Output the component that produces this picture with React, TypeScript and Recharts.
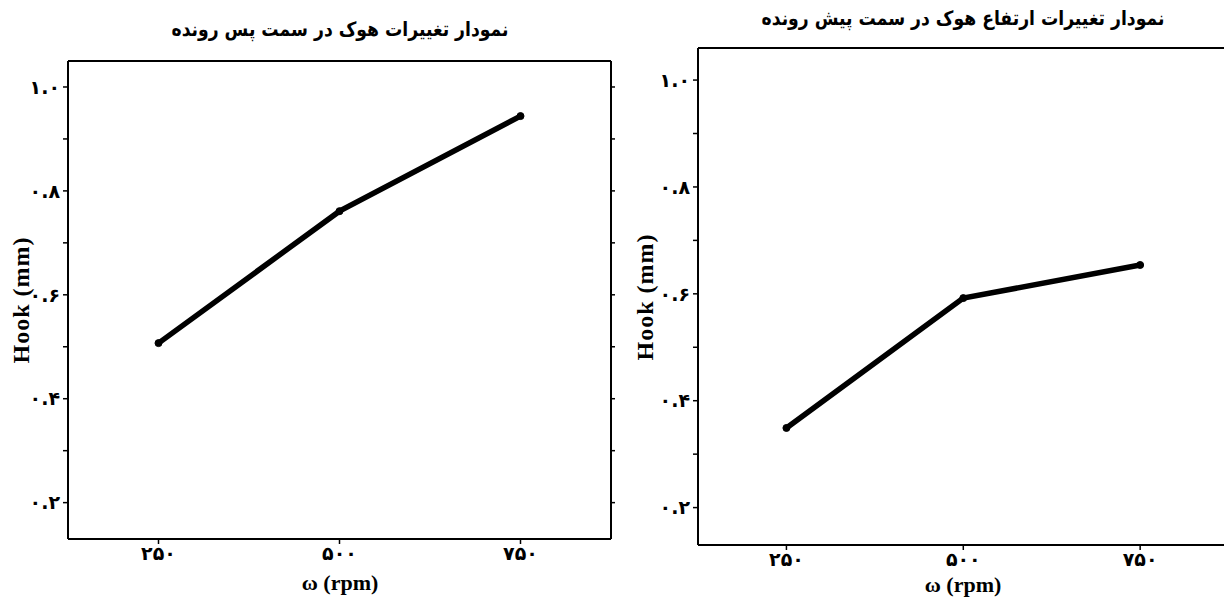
import { Line, LineChart, XAxis, YAxis } from 'recharts';

const rpm = [250, 500, 750];
const trailingHook = [0.507, 0.761, 0.944];
const leadingHook = [0.349, 0.592, 0.654];

const xTicks = [250, 500, 750];
const xTickLabels = ['۲۵۰', '۵۰۰', '۷۵۰'];
const yTicks = [0.2, 0.3, 0.4, 0.5, 0.6, 0.7, 0.8, 0.9, 1.0];
const yTickLabels = ['۰.۲', '', '۰.۴', '', '۰.۶', '', '۰.۸', '', '۱.۰'];

const trailingData = rpm.map((w, i) => ({ w, hook: trailingHook[i] }));
const leadingData = rpm.map((w, i) => ({ w, hook: leadingHook[i] }));

const persianFont = '"DejaVu Sans", sans-serif';
const latinFont = '"Liberation Serif", "DejaVu Serif", serif';

const xLabel = (v: number) => xTickLabels[xTicks.indexOf(v)] ?? '';
const yLabel = (v: number) => {
  const i = yTicks.findIndex((t) => Math.abs(t - v) < 1e-6);
  return i >= 0 ? yTickLabels[i] : '';
};

type PanelProps = {
  data: { w: number; hook: number }[];
  left: number;
  width: number;
  title: string;
  titleTop: number;
  titleCenter: number;
  plotLeft: number;
  plotRight: number;
  plotTop: number;
  plotBottom: number;
  xDomain: [number, number];
  yDomain: [number, number];
  xLabelTop: number;
  yLabelX: number;
};

const Panel = ({
  data,
  left,
  width,
  title,
  titleTop,
  titleCenter,
  plotLeft,
  plotRight,
  plotTop,
  plotBottom,
  xDomain,
  yDomain,
  xLabelTop,
  yLabelX,
}: PanelProps) => {
  const height = 604;
  const axisStyle = { stroke: '#000', strokeWidth: 2 };
  const tickLineStyle = { stroke: '#000', strokeWidth: 1.5 };
  const tickText = { fill: '#000', fontFamily: persianFont, fontWeight: 700, fontSize: 19 };
  return (
    <>
      <div
        style={{
          position: 'absolute',
          left: titleCenter - 300,
          width: 600,
          top: titleTop,
          textAlign: 'center',
          direction: 'rtl',
          fontFamily: persianFont,
          fontWeight: 700,
          fontSize: 20,
          color: '#000',
          transform: 'scaleX(0.86)',
        }}
      >
        {title}
      </div>
      <div style={{ position: 'absolute', left, top: 0, width, height }}>
        <LineChart width={width} height={height} data={data} margin={{ top: 0, right: 0, bottom: 0, left: 0 }}>
          <XAxis
            xAxisId="bottom"
            dataKey="w"
            type="number"
            domain={xDomain}
            ticks={xTicks}
            tickFormatter={xLabel}
            allowDataOverflow
            height={height - plotBottom}
            axisLine={axisStyle}
            tickLine={tickLineStyle}
            tickSize={5}
            tickMargin={3}
            tick={tickText}
          />
          <XAxis
            xAxisId="top"
            orientation="top"
            type="number"
            domain={xDomain}
            ticks={xTicks}
            tickFormatter={() => ''}
            allowDataOverflow
            height={plotTop}
            axisLine={axisStyle}
            tickLine={tickLineStyle}
            tickSize={5}
          />
          <YAxis
            yAxisId="left"
            type="number"
            domain={yDomain}
            ticks={yTicks}
            tickFormatter={yLabel}
            allowDataOverflow
            width={plotLeft}
            axisLine={axisStyle}
            tickLine={tickLineStyle}
            tickSize={5}
            tickMargin={3}
            tick={tickText}
          />
          <YAxis
            yAxisId="right"
            orientation="right"
            type="number"
            domain={yDomain}
            ticks={yTicks}
            tickFormatter={() => ''}
            allowDataOverflow
            width={width - plotRight}
            axisLine={axisStyle}
            tickLine={tickLineStyle}
            tickSize={4}
          />
          <Line
            xAxisId="bottom"
            yAxisId="left"
            dataKey="hook"
            stroke="#000"
            strokeWidth={5.5}
            dot={{ r: 3.5, fill: '#000', stroke: '#000', strokeWidth: 1 }}
            isAnimationActive={false}
          />
        </LineChart>
      </div>
      <div
        style={{
          position: 'absolute',
          left: titleCenter - 100,
          width: 200,
          top: xLabelTop,
          textAlign: 'center',
          fontFamily: latinFont,
          fontWeight: 700,
          fontSize: 22,
          lineHeight: '24px',
          color: '#000',
        }}
      >
        ω (rpm)
      </div>
      <div
        style={{
          position: 'absolute',
          left: left + yLabelX - 100,
          top: (plotTop + plotBottom) / 2 - 14,
          width: 200,
          height: 28,
          lineHeight: '28px',
          textAlign: 'center',
          transform: 'rotate(-90deg)',
          fontFamily: latinFont,
          fontWeight: 700,
          fontSize: 24,
          color: '#000',
          letterSpacing: 1,
        }}
      >
        Hook (mm)
      </div>
    </>
  );
};

const App = () => (
  <div
    style={{
      position: 'fixed',
      left: 0,
      top: 0,
      width: 1260,
      height: 604,
      background: '#fff',
    }}
  >
    <Panel
      data={trailingData}
      left={0}
      width={620}
      title="نمودار تغییرات هوک در سمت پس رونده"
      titleTop={17}
      titleCenter={340}
      plotLeft={68}
      plotRight={611}
      plotTop={61}
      plotBottom={539}
      xDomain={[125, 875]}
      yDomain={[0.13, 1.05]}
      xLabelTop={571}
      yLabelX={21}
    />
    <Panel
      data={leadingData}
      left={620}
      width={640}
      title="نمودار  تغییرات ارتفاع هوک در سمت پیش رونده"
      titleTop={6}
      titleCenter={963}
      plotLeft={78}
      plotRight={610}
      plotTop={48}
      plotBottom={545}
      xDomain={[125, 877]}
      yDomain={[0.13, 1.06]}
      xLabelTop={573}
      yLabelX={25}
    />
  </div>
);

export default App;
